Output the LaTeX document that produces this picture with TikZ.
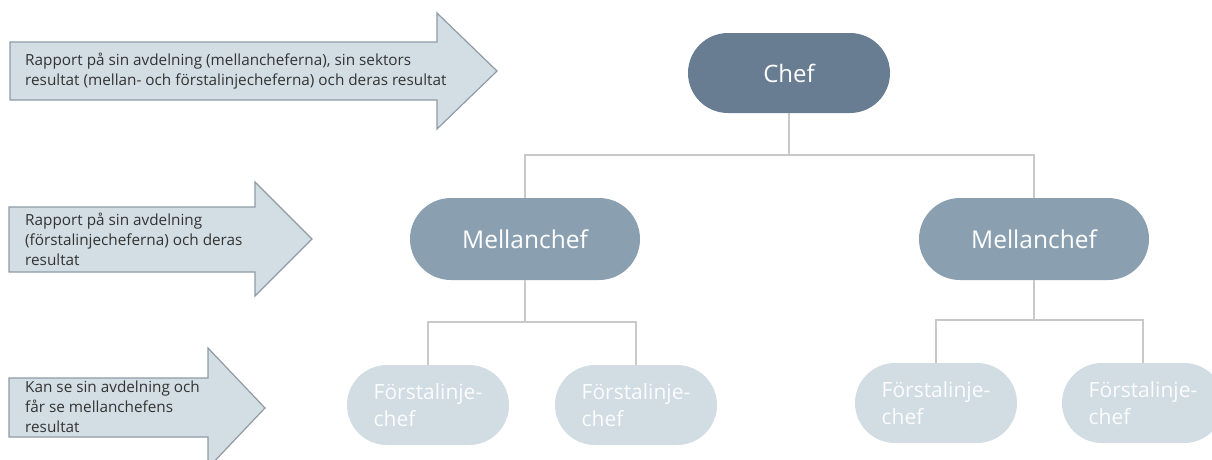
\documentclass[tikz,border=0pt]{standalone}
\usepackage{fontspec}
\setmainfont{Open Sans}
\usetikzlibrary{positioning}
\definecolor{chefcol}{HTML}{687D91}
\definecolor{mellancol}{HTML}{8AA0B1}
\definecolor{forstacol}{HTML}{D2DCE3}
\definecolor{pilfill}{HTML}{D3DDE4}
\definecolor{pilline}{HTML}{8E9BA6}
\definecolor{linecol}{HTML}{C9C9C9}
\definecolor{textcol}{HTML}{333333}

\tikzset{
  boss/.style={rectangle, rounded corners=40pt, minimum height=80pt, text=white, inner sep=0pt},
  chefbox/.style={boss, fill=chefcol, minimum width=202pt, font=\fontsize{24}{28}\selectfont},
  mellanbox/.style={boss, fill=mellancol, minimum width=230pt, minimum height=82pt, rounded corners=41pt, font=\fontsize{24.5}{28}\selectfont},
  forstabox/.style={boss, fill=forstacol, minimum width=162pt, align=left, text=white!92!forstacol, font=\fontsize{21}{27}\selectfont},
  pil/.style={fill=pilfill, draw=pilline, line width=1.2pt},
  piltext/.style={anchor=west, inner sep=0pt, align=left, text=textcol, font=\fontsize{15.3}{20}\selectfont},
  tree/.style={draw=linecol, line width=1.5pt}
}

\begin{document}
\begin{tikzpicture}[x=1pt,y=-1pt]
  \useasboundingbox (0,0) rectangle (1212,459);
  \clip (0,0) rectangle (1212,459);

  % pilarna till vanster
  \draw[pil] (10,42) -- (437,42) -- (437,13) -- (497,71) -- (437,129) -- (437,100) -- (10,100) -- cycle;
  \draw[pil] (9,207) -- (255,207) -- (255,182) -- (312,239) -- (255,296) -- (255,272) -- (9,272) -- cycle;
  \draw[pil] (9,378) -- (208,378) -- (208,348) -- (265,408) -- (208,468) -- (208,437) -- (9,437) -- cycle;

  \node[piltext] (p1) at (25,71) {Rapport på sin avdelning (mellancheferna), sin sektors\\resultat (mellan- och förstalinjecheferna) och deras resultat};
  \node[piltext] (p2) at (25,239) {Rapport på sin avdelning\\(förstalinjecheferna) och deras\\resultat};
  \node[piltext] (p3) at (25,407) {Kan se sin avdelning och\\får se mellanchefens\\resultat};

  % organisationen
  \node[chefbox] (chef) at (789,73) {Chef};
  \node[mellanbox] (m1) at (525,239) {Mellanchef};
  \node[mellanbox] (m2) at (1034,239) {Mellanchef};

  \node[forstabox] (f1) at (428,405) {Förstalinje-\\chef};
  \node[forstabox] (f2) at (636,405) {Förstalinje-\\chef};
  \node[forstabox] (f3) at (936,403) {Förstalinje-\\chef};
  \node[forstabox] (f4) at (1143,403) {Förstalinje-\\chef};

  \draw[tree] (chef.south) -- ++(0,42) coordinate (j0);
  \draw[tree] (m1.north) |- (j0) -| (m2.north);
  \draw[tree] (m1.south) -- ++(0,42) coordinate (j1);
  \draw[tree] (f1.north) |- (j1) -| (f2.north);
  \draw[tree] (m2.south) -- ++(0,40) coordinate (j2);
  \draw[tree] (f3.north) |- (j2) -| (f4.north);
\end{tikzpicture}
\end{document}
